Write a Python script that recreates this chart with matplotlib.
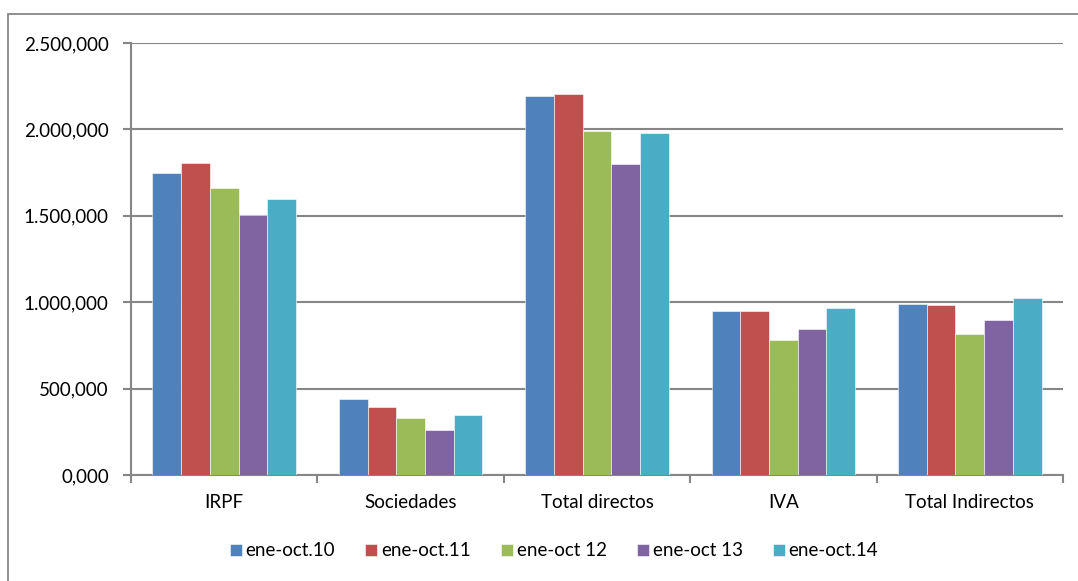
import matplotlib.pyplot as plt
import numpy as np
from matplotlib.patches import Rectangle

plt.rcParams['font.family'] = ['Lato', 'DejaVu Sans']

# data (miles de euros)
categorias = ['IRPF', 'Sociedades', 'Total directos', 'IVA', 'Total Indirectos']
series = ['ene-oct.10', 'ene-oct.11', 'ene-oct 12', 'ene-oct 13', 'ene-oct.14']
v10 = [1746, 440, 2195, 951, 990]
v11 = [1804, 395, 2207, 949, 984]
v12 = [1659, 328, 1991, 781, 816]
v13 = [1505, 260, 1800, 847, 895]
v14 = [1597, 347, 1977, 965, 1024]
valores = [v10, v11, v12, v13, v14]
colores = ['#4F81BD', '#C0504D', '#9BBB59', '#8064A2', '#4BACC6']

fig = plt.figure(figsize=(10.78, 5.81), dpi=100)
ax = fig.add_axes([131/1078, 1 - 475/581, (1063 - 131)/1078, (475 - 43)/581])

# outer chart border
fig.patches.append(Rectangle((8/1078, -0.05), 1.0, 1 - 14/581 + 0.05,
                             transform=fig.transFigure, fill=False,
                             edgecolor='#868686', linewidth=1.3))

x = np.arange(len(categorias))
w = 0.154
for i, (vals, c, lab) in enumerate(zip(valores, colores, series)):
    ax.bar(x + (i - 2) * w, vals, w, color=c, edgecolor='white', linewidth=0.4,
           label=lab, zorder=3)

ax.set_xlim(-0.5, len(categorias) - 0.5)
ax.set_ylim(0, 2500)
ax.set_yticks(np.arange(0, 2501, 500))
ax.set_yticklabels([f"{v:,.3f}".replace(',', 'X').replace('.', ',').replace('X', '.')
                    for v in np.arange(0, 2501, 500)], fontsize=13.5)
ax.yaxis.grid(True, color='#868686', linewidth=1.5, zorder=0)

ax.set_xticks(x)
ax.set_xticklabels(categorias, fontsize=13.5)
ax.set_xticks(np.arange(-0.5, len(categorias)), minor=True)
ax.tick_params(axis='x', which='major', length=0, pad=14)
ax.tick_params(axis='x', which='minor', length=6, color='#868686', width=1.5, direction='out')
ax.tick_params(axis='y', length=6, color='#868686', width=1.5, pad=10)

for s in ['top', 'right']:
    ax.spines[s].set_visible(False)
for s in ['left', 'bottom']:
    ax.spines[s].set_color('#868686')
    ax.spines[s].set_linewidth(1.5)

fig.legend(loc='center', bbox_to_anchor=(554/1078, 1 - 551/581), ncol=5, frameon=False,
           fontsize=13.5, handlelength=0.65, handleheight=0.65, handletextpad=0.2,
           columnspacing=1.6)

fig.savefig('out.png', dpi=100)
